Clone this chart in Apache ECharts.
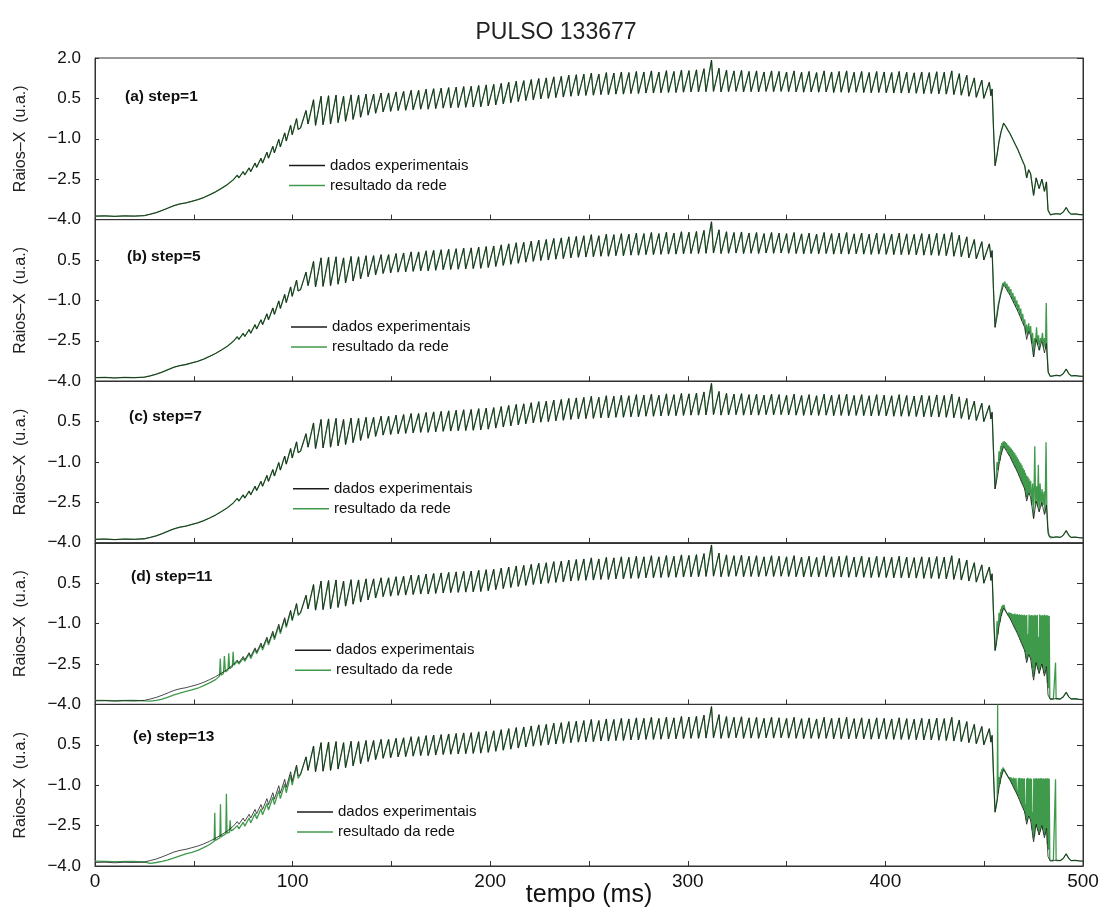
<!DOCTYPE html>
<html><head><meta charset="utf-8">
<script src="https://cdn.jsdelivr.net/npm/echarts@6.0.0/dist/echarts.min.js"></script>
<style>html,body{margin:0;padding:0;background:#fff}#c{width:1112px;height:918px}</style>
</head><body><div id="c"></div>
<script>
const chartTitle = 'PULSO 133677';
const panelLabels = ['(a) step=1','(b) step=5','(c) step=7','(d) step=11','(e) step=13'];
const seriesNames = ['dados experimentais','resultado da rede'];
const xLabelName = 'tempo (ms)';
const yLabelName = 'Raios\u2013X  (u.a.)';
const xMin = 0, xMax = 500, xTickStep = 50, xLabelStep = 100;
const yMin = -4.0, yMax = 2.0, yTickStep = 1.5;

// experimental signal: ramp-up phase
const rampExp = [[0,-3.87],[5,-3.86],[10,-3.88],[15,-3.86],[20,-3.87],[25,-3.85],[28,-3.8],[31,-3.74],[34,-3.66],[37,-3.57],[40,-3.48],[43,-3.42],[46,-3.38],[49,-3.32],[52,-3.26],[55,-3.18],[58,-3.08],[61,-2.97],[64,-2.84],[67,-2.7],[70,-2.52],
[72,-2.35],[72.8,-2.45],[75,-2.22],[75.8,-2.34],[78,-2.08],[78.8,-2.22],[81,-1.9],[81.8,-2.06],[84,-1.72],[84.8,-1.9],[87,-1.5],[87.8,-1.72],[90,-1.28],[90.8,-1.52],[93,-1.02],[93.8,-1.3],[96,-0.78],[96.8,-1.08],[99,-0.5],[99.8,-0.85],[102,-0.25],[102.8,-0.65]];

// experimental signal: sawtooth plateau (trough, peak pairs)
const sawExp = [[104.0,-0.60],[106.8,0.05],[107.8,-0.45],[110.6,0.45],[111.6,-0.50],[114.4,0.58],[115.4,-0.48],[118.2,0.60],[119.2,-0.45],[122.0,0.62],
[123.0,-0.40],[125.8,0.58],[126.8,-0.35],[129.6,0.63],[130.6,-0.28],[133.4,0.62],[134.4,-0.20],[137.2,0.66],[138.2,-0.12],[141.0,0.66],
[142.0,-0.05],[144.8,0.70],[145.8,0.00],[148.6,0.70],[149.6,0.02],[152.4,0.74],[153.4,0.05],[156.2,0.76],[157.2,0.06],[160.0,0.80],
[161.0,0.08],[163.8,0.80],[164.8,0.10],[167.6,0.84],[168.6,0.10],[171.4,0.86],[172.4,0.12],[175.2,0.88],[176.2,0.14],[179.0,0.90],
[180.0,0.15],[182.8,0.92],[183.8,0.16],[186.6,0.94],[187.6,0.17],[190.4,0.95],[191.4,0.18],[194.2,0.98],[195.2,0.19],[198.0,1.00],
[199.0,0.22],[201.8,1.02],[202.8,0.26],[205.6,1.06],[206.6,0.30],[209.4,1.10],[210.4,0.34],[213.2,1.14],[214.2,0.38],[217.0,1.16],
[218.0,0.42],[220.8,1.20],[221.8,0.45],[224.6,1.24],[225.6,0.48],[228.4,1.26],[229.4,0.50],[232.2,1.30],[233.2,0.53],[236.0,1.32],
[237.0,0.55],[239.8,1.36],[240.8,0.58],[243.6,1.38],[244.6,0.60],[247.4,1.40],[248.4,0.61],[251.2,1.44],[252.2,0.62],[255.0,1.40],
[256.0,0.64],[258.8,1.46],[259.8,0.64],[262.6,1.44],[263.6,0.66],[266.4,1.48],[267.4,0.66],[270.2,1.46],[271.2,0.68],[274.0,1.50],
[275.0,0.68],[277.8,1.48],[278.8,0.70],[281.6,1.52],[282.6,0.70],[285.4,1.48],[286.4,0.71],[289.2,1.53],[290.2,0.72],[293.0,1.50],
[294.0,0.72],[296.8,1.55],[297.8,0.73],[300.6,1.53],[301.6,0.74],[304.4,1.56],[305.4,0.74],[308.2,1.60],[309.2,0.75],[312.0,1.92],
[313.0,0.76],[315.8,1.62],[316.8,0.74],[319.6,1.55],[320.6,0.75],[323.4,1.52],[324.4,0.76],[327.2,1.54],[328.2,0.74],[331.0,1.50],
[332.0,0.75],[334.8,1.52],[335.8,0.74],[338.6,1.48],[339.6,0.76],[342.4,1.52],[343.4,0.75],[346.2,1.50],[347.2,0.76],[350.0,1.48],
[351.0,0.75],[353.8,1.52],[354.8,0.74],[357.6,1.47],[358.6,0.73],[361.4,1.50],[362.4,0.74],[365.2,1.46],[366.2,0.73],[369.0,1.52],
[370.0,0.74],[372.8,1.48],[373.8,0.72],[376.6,1.50],[377.6,0.73],[380.4,1.52],[381.4,0.72],[384.2,1.47],[385.2,0.73],[388.0,1.50],
[389.0,0.72],[391.8,1.46],[392.8,0.71],[395.6,1.50],[396.6,0.72],[399.4,1.48],[400.4,0.71],[403.2,1.46],[404.2,0.70],[407.0,1.50],
[408.0,0.70],[410.8,1.47],[411.8,0.70],[414.6,1.45],[415.6,0.69],[418.4,1.48],[419.4,0.68],[422.2,1.46],[423.2,0.68],[426.0,1.49],
[427.0,0.67],[429.8,1.47],[430.8,0.66],[433.6,1.52],[434.6,0.64],[437.4,1.42],[438.4,0.62],[441.2,1.36],[442.2,0.58],[445.0,1.26],
[446.0,0.54],[448.8,1.18],[449.8,0.50],[452.6,1.10],[453.4,0.60],[454.0,0.85]];

// experimental signal: disruption
const dropExp = [[454.7,-0.6],[455.5,-2.0]];
const decayExp = [[456.5,-1.6],[457.5,-1.1],[458.5,-0.75],[459.8,-0.42],[461,-0.55],[462,-0.68],[463,-0.8],[464,-0.95],[465,-1.1],[466,-1.25],[467,-1.4],[468,-1.57],[469,-1.75],[470,-1.92],[470.5,-2.0],[471.5,-2.45],[472.5,-2.15],[473.5,-2.3],[475,-3.1],[476.3,-2.45],[477.8,-2.85],[479.2,-2.5],[480.5,-2.95],[481.5,-2.6],[482.3,-3.65]];
const tailExp = [[483.5,-3.82],[485,-3.8],[486.5,-3.78],[487.5,-3.72],[488.5,-3.8],[490,-3.72],[491.5,-3.55],[492.8,-3.72],[494,-3.8],[496,-3.79],[498,-3.81],[500,-3.82]];

// network output, panel-specific parts
const rampNetD = [[0,-3.85],[10,-3.86],[20,-3.85],[25,-3.87],[28,-3.88],[31,-3.85],[34,-3.8],[37,-3.73],[40,-3.65],[43,-3.58],[46,-3.52],[49,-3.46],[52,-3.4],[55,-3.3],[58,-3.2],[61,-3.08],[63,-2.95],[63.4,-2.3],[63.8,-2.92],[65,-2.85],[65.5,-2.2],[66,-2.8],[67.3,-2.72],[67.7,-2.1],[68.1,-2.68],[69.5,-2.6],[69.9,-2.05],[70.3,-2.55],
[72,-2.4],[72.8,-2.5],[75,-2.28],[75.8,-2.4],[78,-2.12],[78.8,-2.3],[81,-1.95],[81.8,-2.12],[84,-1.78],[84.8,-1.98],[87,-1.56],[87.8,-1.8],[90,-1.34],[90.8,-1.6],[93,-1.08],[93.8,-1.38],[96,-0.82],[96.8,-1.15],[99,-0.55],[99.8,-0.9],[102,-0.28],[102.8,-0.7]];
const rampNetE = [[0,-3.82],[10,-3.84],[20,-3.83],[25,-3.86],[28,-3.9],[31,-3.87],[34,-3.83],[37,-3.77],[40,-3.7],[43,-3.62],[46,-3.55],[49,-3.49],[52,-3.42],[55,-3.32],[58,-3.2],[60.3,-3.08],[60.6,-2.02],[60.9,-3.05],[63.2,-2.95],[63.5,-1.71],[63.8,-2.92],[66.2,-2.8],[66.5,-1.32],[66.8,-2.78],[68,-2.75],[68.4,-2.3],[68.8,-2.7],[70,-2.65],
[72,-2.5],[72.8,-2.62],[75,-2.38],[75.8,-2.52],[78,-2.22],[78.8,-2.4],[81,-2.05],[81.8,-2.25],[84,-1.88],[84.8,-2.1],[87,-1.68],[87.8,-1.92],[90,-1.45],[90.8,-1.72],[93,-1.2],[93.8,-1.5],[96,-0.95],[96.8,-1.28],[99,-0.62],[99.8,-1.0],[102,-0.3],[102.8,-0.75]];

const bandNetB = [[456.0,-1.7],[457.0,-1.2],[458.0,-0.85],[459.0,-0.5],[459.5,-0.35],[460.0,-0.43],[460.5,-0.3],[461.0,-0.55],[461.5,-0.38],[462.0,-0.68],[462.5,-0.48],[463.0,-0.8],[463.5,-0.58],[464.0,-0.95],[464.5,-0.72],[465.0,-1.1],[465.5,-0.85],[466.0,-1.25],[466.5,-1.0],[467.0,-1.4],[467.5,-1.15],[468.0,-1.57],[468.5,-1.3],[469.0,-1.75],[469.5,-1.5],[470.0,-1.92],[470.5,-1.7],[471.0,-2.25],[471.5,-1.9],[472.0,-2.3],[472.5,-1.85],[473.0,-2.22],[473.5,-1.95],[474.0,-2.6],[474.5,-2.2],[475.0,-3.1],[475.5,-2.4],[476.0,-2.55],[476.5,-2.0],[477.0,-2.65],[477.5,-2.3],[478.0,-2.85],[478.5,-2.4],[479.0,-2.5],[479.5,-2.2],[480.0,-2.75],[480.5,-2.4],[481.0,-2.8],[481.4,-1.1],[481.8,-2.9],[482.5,-3.7]];
const bandNetC = [[456.0,-1.7],[456.5,-1.0],[457.0,-1.3],[457.5,-0.6],[458.0,-0.95],[458.3,-0.4],[458.6,-0.72],[458.9,-0.3],[459.2,-0.55],[459.5,-0.25],[459.8,-0.42],[460.1,-0.22],[460.4,-0.46],[460.7,-0.26],[461.0,-0.55],[461.3,-0.3],[461.6,-0.6],[461.9,-0.36],[462.2,-0.7],[462.5,-0.4],[462.8,-0.78],[463.1,-0.45],[463.4,-0.86],[463.7,-0.5],[464.0,-0.95],[464.3,-0.56],[464.6,-1.04],[464.9,-0.62],[465.2,-1.13],[465.5,-0.68],[465.8,-1.22],[466.1,-0.75],[466.4,-1.31],[466.7,-0.82],[467.0,-1.4],[467.3,-0.9],[467.6,-1.5],[467.9,-0.98],[468.2,-1.6],[468.5,-1.05],[468.8,-1.71],[469.1,-1.12],[469.4,-1.82],[469.7,-1.22],[470.0,-1.92],[470.3,-1.3],[470.6,-2.05],[470.9,-1.4],[471.2,-2.3],[471.5,-1.5],[471.8,-2.36],[472.1,-1.55],[472.4,-2.18],[472.7,-1.62],[473.0,-2.22],[473.5,-1.7],[474.0,-2.6],[474.5,-1.8],[475.0,-3.1],[475.6,-0.42],[476.0,-2.55],[476.5,-1.9],[477.0,-2.65],[477.4,-1.1],[477.8,-2.85],[478.3,-1.8],[478.8,-2.65],[479.3,-2.0],[479.8,-2.6],[480.3,-2.1],[480.8,-2.9],[481.3,-0.27],[481.7,-2.7],[482.2,-3.4],[482.8,-3.75]];
const bandNetD = [[456.0,-1.8],[456.5,-0.9],[457.0,-1.4],[457.5,-0.6],
[458.0,-0.95],[458.3,-0.45],[458.6,-0.72],[458.9,-0.35],[459.2,-0.55],[459.5,-0.3],[459.8,-0.42],[460.1,-0.3],[460.4,-0.46],[460.7,-0.4],
[461.0,-0.55],[461.3,-0.5],[461.6,-0.6],[461.9,-0.52],[462.2,-0.7],[462.5,-0.58],[462.8,-0.78],[463.1,-0.6],[463.4,-0.86],[463.7,-0.62],
[464.0,-0.95],[464.3,-0.64],[464.6,-1.04],[464.9,-0.65],[465.2,-1.13],[465.5,-0.63],[465.8,-1.22],[466.1,-0.66],[466.4,-1.31],[466.7,-0.64],
[467.0,-1.4],[467.3,-0.67],[467.6,-1.5],[467.9,-0.65],[468.2,-1.6],[468.5,-0.68],[468.8,-1.71],[469.1,-0.66],[469.4,-1.82],[469.7,-0.69],
[470.0,-1.92],[470.3,-0.67],[470.6,-2.05],[470.9,-0.7],[471.2,-2.3],[471.5,-0.68],[471.8,-2.36],[472.1,-1.4],[472.4,-2.18],[472.7,-0.66],
[473.0,-2.22],[473.3,-0.7],[473.6,-2.35],[473.9,-0.68],[474.2,-2.65],[474.5,-0.69],[474.8,-2.98],[475.1,-0.7],[475.4,-2.9],[475.7,-0.67],
[476.0,-2.6],[476.3,-0.7],[476.6,-2.53],[476.9,-0.68],[477.2,-2.7],[477.5,-1.5],[477.8,-2.85],[478.1,-0.66],[478.4,-2.72],[478.7,-0.7],
[479.0,-2.55],[479.3,-0.68],[479.6,-2.65],[479.9,-0.7],[480.2,-2.85],[480.5,-0.66],[480.8,-2.85],[481.1,-0.7],[481.4,-2.65],[481.7,-0.68],
[482.0,-3.2],[482.3,-0.7],[482.6,-3.4],[482.9,-0.72],[483.2,-3.78]];
const bandNetE = [[456.0,-1.8],[456.6,-1.5],[456.8,2.0],[457.0,-1.3],[457.5,-0.7],
[458.0,-0.95],[458.3,-0.5],[458.6,-0.72],[458.9,-0.4],[459.2,-0.55],[459.5,-0.35],[459.8,-0.42],[460.1,-0.36],[460.4,-0.46],[460.7,-0.45],
[461.0,-0.55],[461.3,-0.55],[461.6,-0.6],[461.9,-0.62],[462.2,-0.7],[462.5,-0.66],[462.8,-0.78],[463.1,-0.7],[463.4,-0.86],[463.7,-0.72],
[464.0,-0.95],[464.3,-0.74],[464.6,-1.04],[464.9,-0.72],[465.2,-1.13],[465.5,-0.75],[465.8,-1.22],[466.1,-0.73],[466.4,-1.31],[466.7,-1.2],
[467.0,-1.4],[467.3,-0.74],[467.6,-1.5],[467.9,-0.72],[468.2,-1.6],[468.5,-0.75],[468.8,-1.71],[469.1,-0.73],[469.4,-1.82],[469.7,-0.76],
[470.0,-1.92],[470.3,-0.74],[470.6,-2.05],[470.9,-1.7],[471.2,-2.3],[471.5,-0.75],[471.8,-2.36],[472.1,-0.72],[472.4,-2.18],[472.7,-0.76],
[473.0,-2.22],[473.3,-0.74],[473.6,-2.35],[473.9,-0.76],[474.2,-2.65],[474.5,-2.0],[474.8,-2.98],[475.1,-0.74],[475.4,-2.9],[475.7,-0.76],
[476.0,-2.6],[476.3,-0.73],[476.6,-2.53],[476.9,-0.76],[477.2,-2.7],[477.5,-0.74],[477.8,-2.85],[478.1,-0.75],[478.4,-2.72],[478.7,-0.73],
[479.0,-2.55],[479.3,-0.76],[479.6,-2.65],[479.9,-0.74],[480.2,-2.85],[480.5,-0.76],[480.8,-2.85],[481.1,-0.74],[481.4,-2.65],[481.7,-0.75],
[482.0,-3.2],[482.3,-0.74],[482.6,-3.4],[482.9,-0.76],[483.2,-3.78]];
const tailNetD = [[483.5,-3.82],[485,-3.8],[485.8,-3.8],[486.1,-2.45],[486.4,-3.8],[488.5,-3.8],[490,-3.72],[491.5,-3.55],[492.8,-3.72],[494,-3.8],[496,-3.79],[498,-3.81],[500,-3.82]];
const tailNetE = [[483.5,-3.82],[485,-3.8],[485.8,-3.8],[486.1,-0.78],[486.4,-3.8],[488.5,-3.8],[490,-3.72],[491.5,-3.55],[492.8,-3.72],[494,-3.8],[496,-3.79],[498,-3.81],[500,-3.82]];

const expData = [].concat(rampExp, sawExp, dropExp, decayExp, tailExp);
const netData = [
  expData,
  [].concat(rampExp, sawExp, dropExp, bandNetB, tailExp),
  [].concat(rampExp, sawExp, dropExp, bandNetC, tailExp),
  [].concat(rampNetD, sawExp, dropExp, bandNetD, tailNetD),
  [].concat(rampNetE, sawExp, dropExp, bandNetE, tailNetE)
];

const FONT = '"Liberation Sans", Arial, Helvetica, sans-serif';
const TOP0 = 58, PH = 161.6, LEFT = 95, RIGHT = 29;
const BLACK = '#1c1c1c', GREEN = '#3f9a4c', AXC = '#333';

const grids = [], xAxes = [], yAxes = [], series = [], titles = [], legends = [];
titles.push({text: chartTitle, left: 'center', top: 16, textStyle: {fontFamily: FONT, fontSize: 23, fontWeight: 'normal', color: '#222'}});
for (let i = 0; i < 5; i++) {
  const top = TOP0 + i * PH;
  grids.push({left: LEFT, right: RIGHT, top: top, height: PH, show: true, borderColor: AXC, borderWidth: 1, backgroundColor: 'transparent'});
  const last = i === 4;
  xAxes.push({type: 'value', gridIndex: i, min: xMin, max: xMax, interval: xTickStep, position: 'bottom',
    axisLine: {show: true, onZero: false, lineStyle: {color: AXC, width: 1}},
    axisTick: {show: true, inside: true, length: 5, lineStyle: {color: AXC}},
    axisLabel: {show: last, margin: 6, fontFamily: FONT, fontSize: 19, color: '#111',
      formatter: v => (v % xLabelStep === 0 ? String(v) : '')},
    splitLine: {show: false},
    name: last ? xLabelName : '', nameLocation: 'middle', nameGap: 17, nameMoveOverlap: false,
    nameTextStyle: {fontFamily: FONT, fontSize: 25, color: '#111', verticalAlign: 'top', padding: [0, 0, 0, 0]}});
  yAxes.push({type: 'value', gridIndex: i, min: yMin, max: yMax, interval: yTickStep, position: 'left',
    axisLine: {show: true, onZero: false, lineStyle: {color: AXC, width: 1}},
    axisTick: {show: true, inside: true, length: 4, lineStyle: {color: AXC}},
    axisLabel: {show: true, showMaxLabel: i === 0, margin: 14, fontFamily: FONT, fontSize: 17, color: '#111',
      formatter: v => (v < 0 ? '\u2212' : '') + Math.abs(v).toFixed(1)},
    splitLine: {show: false},
    name: yLabelName, nameLocation: 'middle', nameGap: 66, nameMoveOverlap: false,
    nameTextStyle: {fontFamily: FONT, fontSize: 16, color: '#222'}});
  yAxes.push({type: 'value', gridIndex: i, min: yMin, max: yMax, interval: yTickStep, position: 'right',
    axisLine: {show: true, onZero: false, lineStyle: {color: AXC, width: 1}},
    axisTick: {show: true, inside: true, length: 6, lineStyle: {color: AXC}},
    axisLabel: {show: false}, splitLine: {show: false}});
  series.push({name: seriesNames[1], type: 'line', xAxisIndex: i, yAxisIndex: 2 * i, data: netData[i],
    showSymbol: false, symbol: 'none', clip: true, z: 2, color: GREEN,
    lineStyle: {color: GREEN, width: 1.3}});
  series.push({name: seriesNames[0], type: 'line', xAxisIndex: i, yAxisIndex: 2 * i, data: expData,
    showSymbol: false, symbol: 'none', clip: true, z: 3, color: BLACK,
    lineStyle: {color: BLACK, width: 0.8}});
  titles.push({text: panelLabels[i], left: 120 + i * 2, top: top + 26 - i * 1.7,
    textStyle: {fontFamily: FONT, fontSize: 15.5, fontWeight: 'bold', color: '#111'}});
  legends.push({data: [seriesNames[0], seriesNames[1]], orient: 'vertical', left: 289 + i * 2, top: top + 100,
    padding: 0, itemGap: 5, itemWidth: 36, itemHeight: 1.5, icon: 'rect', selectedMode: false,
    textStyle: {fontFamily: FONT, fontSize: 15, color: '#111'}});
}

const chart = echarts.init(document.getElementById('c'), null, {renderer: 'canvas'});
chart.setOption({
  backgroundColor: '#fff', animation: false,
  title: titles, legend: legends, grid: grids, xAxis: xAxes, yAxis: yAxes, series: series
});
</script></body></html>
